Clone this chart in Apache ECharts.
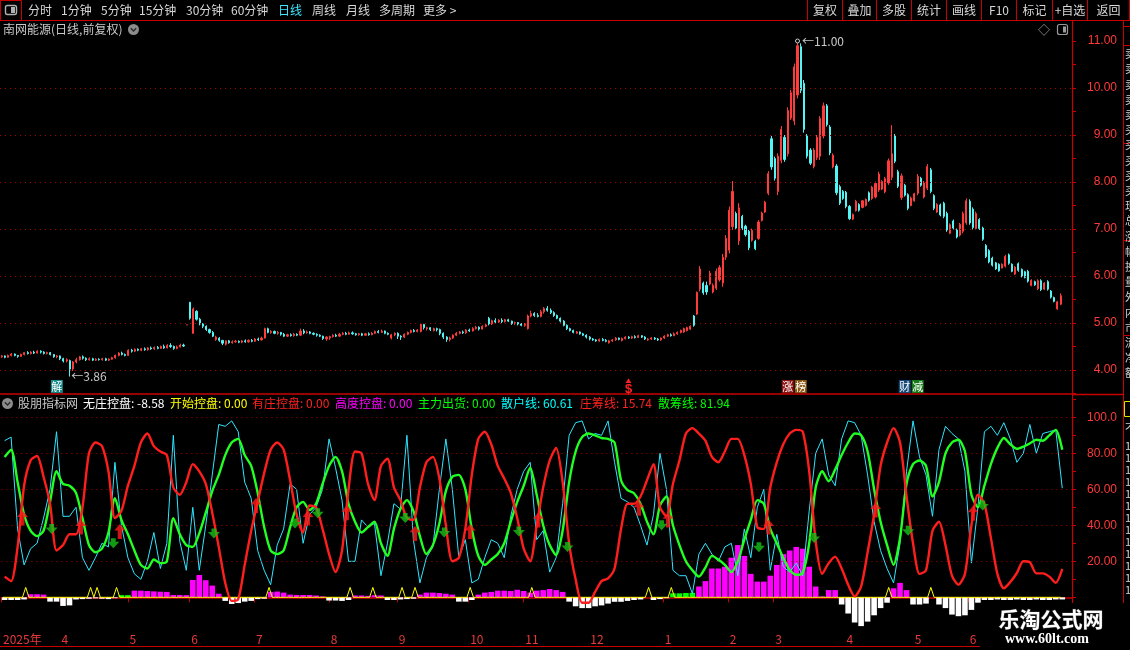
<!DOCTYPE html>
<html><head><meta charset="utf-8">
<script src="https://cdn.jsdelivr.net/npm/echarts@6/dist/echarts.min.js"></script>
<style>html,body{margin:0;padding:0;background:#000;overflow:hidden}#c{width:1130px;height:650px}</style>
</head><body><div id="c"></div>
<script>
// ---------- DATA ----------
// daily candles: [open, close, low, high]
const candles = [
[4.28,4.30,4.26,4.32],[4.30,4.27,4.25,4.31],[4.27,4.31,4.26,4.33],[4.31,4.34,4.29,4.36],[4.34,4.31,4.29,4.35],
[4.31,4.29,4.26,4.32],[4.29,4.33,4.28,4.35],[4.33,4.37,4.31,4.38],[4.37,4.35,4.33,4.40],[4.35,4.38,4.33,4.40],
[4.38,4.36,4.34,4.41],[4.36,4.40,4.35,4.42],[4.40,4.38,4.35,4.42],[4.38,4.35,4.33,4.40],[4.35,4.37,4.33,4.39],
[4.37,4.33,4.31,4.38],[4.33,4.28,4.26,4.34],[4.28,4.30,4.25,4.32],[4.30,4.24,4.21,4.31],[4.24,4.19,4.16,4.26],
[4.19,4.22,4.16,4.25],[4.20,4.02,3.86,4.22],[4.02,4.17,3.98,4.19],[4.17,4.22,4.14,4.26],[4.22,4.28,4.20,4.30],
[4.28,4.25,4.22,4.31],[4.25,4.22,4.19,4.27],[4.22,4.24,4.20,4.27],[4.24,4.21,4.19,4.26],[4.21,4.23,4.19,4.25],
[4.23,4.22,4.20,4.25],[4.22,4.24,4.20,4.26],[4.24,4.21,4.19,4.26],[4.21,4.23,4.19,4.25],[4.23,4.26,4.22,4.28],
[4.26,4.31,4.24,4.33],[4.31,4.36,4.29,4.38],[4.36,4.33,4.31,4.39],[4.33,4.31,4.29,4.35],[4.31,4.42,4.30,4.44],
[4.42,4.40,4.37,4.45],[4.40,4.44,4.38,4.46],[4.44,4.42,4.40,4.46],[4.42,4.45,4.40,4.47],[4.45,4.43,4.41,4.48],
[4.43,4.47,4.41,4.49],[4.47,4.45,4.43,4.50],[4.45,4.48,4.43,4.50],[4.48,4.46,4.44,4.51],[4.46,4.50,4.45,4.52],
[4.50,4.47,4.45,4.54],[4.47,4.52,4.46,4.55],[4.52,4.50,4.47,4.57],[4.50,4.46,4.43,4.52],[4.46,4.49,4.44,4.52],
[4.49,4.53,4.48,4.56],[4.53,4.51,4.49,4.56],[4.96,4.96,4.96,4.96],[5.44,5.10,5.07,5.45],[4.78,5.30,4.77,5.33],
[5.25,5.08,5.05,5.27],[5.08,4.98,4.95,5.11],[4.98,4.93,4.89,5.00],[4.93,4.86,4.83,4.95],[4.86,4.80,4.77,4.88],
[4.80,4.72,4.70,4.83],[4.65,4.70,4.62,4.73],[4.68,4.63,4.60,4.70],[4.63,4.57,4.53,4.64],[4.55,4.62,4.52,4.63],
[4.62,4.58,4.56,4.64],[4.58,4.60,4.56,4.63],[4.60,4.61,4.58,4.64],[4.61,4.59,4.57,4.63],[4.59,4.62,4.57,4.64],
[4.62,4.60,4.58,4.65],[4.60,4.63,4.58,4.65],[4.63,4.61,4.59,4.66],[4.61,4.66,4.60,4.68],[4.66,4.64,4.62,4.69],
[4.64,4.68,4.63,4.71],[4.68,4.88,4.67,4.90],[4.88,4.80,4.78,4.90],[4.80,4.82,4.77,4.85],[4.82,4.78,4.76,4.84],
[4.78,4.80,4.75,4.83],[4.80,4.76,4.73,4.81],[4.76,4.72,4.70,4.79],[4.72,4.75,4.70,4.77],[4.75,4.73,4.71,4.78],
[4.73,4.76,4.71,4.79],[4.76,4.74,4.72,4.78],[4.74,4.83,4.73,4.88],[4.83,4.79,4.76,4.87],[4.79,4.81,4.77,4.84],
[4.81,4.78,4.76,4.83],[4.78,4.76,4.74,4.80],[4.76,4.74,4.71,4.78],[4.74,4.72,4.70,4.76],[4.72,4.67,4.64,4.73],
[4.66,4.70,4.62,4.72],[4.68,4.71,4.64,4.73],[4.71,4.74,4.69,4.76],[4.74,4.72,4.70,4.77],[4.72,4.76,4.71,4.79],
[4.76,4.78,4.74,4.81],[4.78,4.76,4.74,4.81],[4.76,4.79,4.75,4.82],[4.79,4.77,4.75,4.82],[4.77,4.75,4.73,4.79],
[4.75,4.77,4.73,4.79],[4.77,4.74,4.72,4.79],[4.74,4.77,4.73,4.79],[4.77,4.75,4.73,4.80],[4.75,4.78,4.74,4.81],
[4.78,4.82,4.77,4.84],[4.82,4.80,4.78,4.85],[4.80,4.83,4.79,4.86],[4.83,4.78,4.76,4.84],[4.78,4.76,4.74,4.80],
[4.68,4.75,4.65,4.77],[4.75,4.78,4.72,4.80],[4.78,4.72,4.66,4.80],[4.72,4.70,4.64,4.74],[4.70,4.76,4.68,4.78],
[4.76,4.80,4.74,4.82],[4.80,4.84,4.78,4.86],[4.84,4.82,4.80,4.87],[4.82,4.85,4.80,4.87],[4.82,4.97,4.80,5.00],
[4.97,4.90,4.86,4.98],[4.88,4.90,4.84,4.92],[4.90,4.86,4.83,4.91],[4.84,4.88,4.82,4.90],[4.88,4.86,4.82,4.90],
[4.86,4.78,4.74,4.88],[4.78,4.70,4.66,4.80],[4.70,4.65,4.60,4.72],[4.65,4.68,4.61,4.71],[4.68,4.74,4.66,4.76],
[4.74,4.78,4.72,4.81],[4.78,4.81,4.76,4.83],[4.81,4.79,4.77,4.84],[4.79,4.85,4.77,4.87],[4.85,4.83,4.81,4.88],
[4.83,4.88,4.82,4.91],[4.88,4.91,4.86,4.94],[4.91,4.87,4.84,4.93],[4.87,4.93,4.86,4.95],[4.93,4.96,4.91,4.99],
[5.10,4.98,4.95,5.13],[4.98,5.05,4.96,5.07],[5.05,5.02,4.99,5.10],[5.02,5.06,5.00,5.08],[5.06,5.03,5.00,5.10],
[5.03,5.07,5.01,5.09],[5.07,5.04,5.02,5.09],[5.04,4.99,4.96,5.05],[4.99,5.01,4.96,5.03],[5.01,4.98,4.95,5.02],
[4.98,4.95,4.93,5.00],[4.95,4.97,4.92,5.00],[4.88,5.15,4.86,5.18],[5.15,5.20,5.12,5.26],[5.20,5.16,5.13,5.23],
[5.16,5.14,5.12,5.21],[5.14,5.24,5.12,5.28],[5.24,5.31,5.20,5.34],[5.31,5.27,5.24,5.36],[5.27,5.22,5.19,5.31],
[5.22,5.16,5.13,5.25],[5.16,5.10,5.08,5.18],[5.10,5.04,5.01,5.12],[5.04,4.95,4.93,5.06],[4.95,4.88,4.85,4.97],
[4.88,4.84,4.82,4.90],[4.84,4.80,4.78,4.86],[4.78,4.81,4.77,4.83],[4.81,4.77,4.75,4.82],[4.77,4.74,4.72,4.79],
[4.74,4.70,4.67,4.76],[4.70,4.66,4.63,4.72],[4.66,4.64,4.62,4.68],[4.64,4.62,4.60,4.66],[4.62,4.65,4.60,4.67],
[4.65,4.63,4.61,4.68],[4.63,4.61,4.59,4.66],[4.58,4.62,4.56,4.64],[4.62,4.64,4.60,4.66],[4.64,4.68,4.62,4.70],
[4.68,4.65,4.63,4.69],[4.63,4.67,4.61,4.69],[4.67,4.70,4.65,4.72],[4.70,4.68,4.66,4.72],[4.68,4.71,4.66,4.73],
[4.71,4.69,4.67,4.74],[4.69,4.73,4.68,4.75],[4.73,4.70,4.68,4.74],[4.70,4.66,4.64,4.72],[4.64,4.66,4.62,4.68],
[4.66,4.68,4.64,4.70],[4.68,4.66,4.64,4.70],[4.66,4.64,4.62,4.68],[4.64,4.68,4.62,4.69],[4.68,4.72,4.66,4.74],
[4.72,4.75,4.70,4.77],[4.75,4.73,4.71,4.78],[4.73,4.77,4.72,4.80],[4.77,4.80,4.75,4.82],[4.80,4.84,4.78,4.86],
[4.81,4.88,4.79,4.90],[4.84,4.90,4.82,4.92],[4.87,4.93,4.85,4.95],[5.15,4.95,4.92,5.17],[5.19,5.65,5.17,5.67],
[5.72,6.15,5.67,6.21],[5.85,5.64,5.60,5.88],[5.80,5.66,5.60,5.88],[5.83,6.06,5.80,6.11],[5.66,5.80,5.63,5.84],
[5.74,6.10,5.70,6.16],[5.92,6.18,5.88,6.23],[5.85,6.40,5.77,6.47],[6.40,6.80,6.34,6.87],[6.55,7.40,6.48,7.48],
[7.05,7.80,6.98,8.02],[7.33,7.02,6.98,7.37],[6.75,7.45,6.66,7.55],[7.27,7.02,6.98,7.30],[7.06,6.88,6.84,7.09],
[6.95,6.60,6.55,6.98],[6.76,6.97,6.73,7.01],[6.74,6.58,6.55,6.77],[6.80,7.15,6.77,7.19],[7.18,7.34,7.16,7.37],
[7.36,7.57,7.34,7.60],[7.76,8.18,7.72,8.23],[8.92,8.32,8.26,8.98],[8.50,8.08,8.03,8.54],[7.80,8.55,7.72,8.61],
[8.46,9.12,8.40,9.19],[8.95,8.48,8.43,9.00],[8.60,9.52,8.54,9.59],[9.36,9.90,9.32,9.96],[9.30,10.45,9.21,10.52],
[9.85,10.90,9.78,11.00],[10.88,9.95,9.89,10.95],[10.10,9.12,9.05,10.17],[8.98,8.55,8.50,9.02],[8.68,8.40,8.36,8.72],
[8.33,8.68,8.29,8.72],[8.52,8.95,8.47,9.00],[8.55,9.35,8.47,9.40],[8.98,9.62,8.93,9.69],[9.62,9.22,9.18,9.66],
[9.17,8.62,8.57,9.21],[8.32,8.57,8.29,8.61],[8.34,7.77,7.72,8.38],[7.90,7.55,7.51,7.94],[7.80,7.65,7.62,7.83],
[7.78,7.48,7.44,7.81],[7.48,7.22,7.19,7.51],[7.21,7.31,7.19,7.33],[7.39,7.59,7.37,7.62],[7.52,7.40,7.37,7.55],
[7.46,7.60,7.44,7.62],[7.50,7.63,7.48,7.65],[7.77,7.61,7.58,7.80],[7.65,7.89,7.62,7.92],[7.68,7.97,7.65,8.01],
[7.83,8.17,7.79,8.22],[7.85,8.01,7.83,8.04],[7.79,8.07,7.76,8.11],[7.98,8.45,7.94,8.50],[8.10,8.60,8.04,9.21],
[8.98,8.44,8.40,9.02],[8.22,7.91,7.87,8.26],[7.67,8.13,7.62,8.18],[7.93,7.72,7.69,7.96],[7.73,7.44,7.40,7.76],
[7.50,7.66,7.48,7.69],[7.60,7.75,7.58,7.77],[7.76,8.12,7.72,8.17],[8.08,7.93,7.90,8.11],[7.68,7.98,7.65,8.02],
[7.87,8.33,7.83,8.38],[8.26,7.80,7.76,8.30],[7.71,7.44,7.40,7.74],[7.36,7.52,7.34,7.55],[7.51,7.30,7.27,7.54],
[7.55,7.27,7.23,7.58],[7.33,6.98,6.94,7.37],[6.91,7.09,6.89,7.12],[7.17,7.02,6.99,7.20],[6.98,6.83,6.80,7.01],
[6.87,7.10,6.84,7.13],[6.95,7.33,6.91,7.37],[7.13,7.60,7.09,7.65],[7.59,7.13,7.09,7.63],[7.42,7.03,6.99,7.46],
[7.01,7.33,6.98,7.37],[7.20,7.01,6.98,7.23],[7.02,6.78,6.75,7.05],[6.65,6.41,6.38,6.68],[6.54,6.30,6.27,6.57],
[6.38,6.23,6.20,6.41],[6.28,6.15,6.13,6.30],[6.25,6.11,6.09,6.27],[6.17,6.25,6.16,6.27],[6.21,6.42,6.18,6.45],
[6.45,6.27,6.24,6.48],[6.25,6.10,6.08,6.27],[6.04,6.19,6.02,6.21],[6.26,6.12,6.09,6.29],[6.14,6.00,5.97,6.16],
[6.09,5.97,5.95,6.11],[6.10,5.89,5.86,6.13],[5.80,5.91,5.78,5.93],[5.88,5.81,5.79,5.90],[5.73,5.90,5.70,5.93],
[5.90,5.71,5.68,5.93],[5.72,5.85,5.70,5.87],[5.88,5.72,5.69,5.91],[5.68,5.55,5.52,5.70],[5.54,5.46,5.44,5.56],
[5.30,5.45,5.28,5.47],[5.40,5.58,5.38,5.63]
];
// month-start candle indexes and their labels on the date axis
const monthIdx = [0,18,39,58,78,101,122,144,161,181,204,224,238,260,281,298];
const monthLabels = ['2025年','4','5','6','7','8','9','10','11','12','1','2','3','4','5','6'];
const priceLevels = [4,5,6,7,8,9,10];
const indLevels = [20,40,60,80,100];
// indicator lines, one value per two trading days
const zhuangLine = [ // 庄筹线 (red)
11.5,9,28,62,76,78.5,67,52,26,29, 35,35,50,80,86,84,70,44,48,62,
73,86,91,84,81,79,61,57,64,74, 70,63,47,28,8,-2,-1,18,37,53,
69,82,86,82,65,46,36,51,50,38, 24,14,26,60,81,80,63,54,73,77,
61,54,44,43,61,75,78,66,40,20, 22,38,68,88,92,85,73,66,58,44,
27,20,40,61,76,83,64,30,10,-3, -3,3,9,10.5,16,38,52,52,56,65,
74,50,45,63,76,91,94,91,87,78, 75,81,88,88,79,63,39,38,61,75,
85,91,93,92,70,31,13,19,22.6,16, 7,0.5,6,25,46,73,86,94,86,56,
30,13,15,37,42,29,12,7,13,40, 57,52,33,13,5,8.5,13.5,20,19.5,13.3,
13.3,11.5,8,15.74];
const sanchouLine = [ // 散筹线 (green)
78,82,64,46,37,34,37,53,70,63, 62,58,44,29,25,27,36,55,43,35,
26,18,16,21,19,20,44,35,29,28, 35.5,47,59,68,79,86,88,79,73,58,
39,26,24,26,39,50,53,48.5,52,63, 73,78,70,52,42,36,39,42,30,23,
38,49,54,48,34,24,29,41,59,67, 68,60,38,23,18,21,24,30,42,53,
62,72,57,40,29,23.5,37,64,81,89, 91,90,88.5,88,86,65,59.5,57.8,52,42,
35,51,56,40,29,20,15,11.5,16.5,23, 21,18,14,20,32,43,54,52,38,30,
22,15,12.5,13.5,30,61,70,64.5,71,79, 86,91,90,81,60,42,29,18,33,63,
74,76,73,56,64,80,86,87.5,81,57, 50,62,74,83,88.5,85,82.5,83.7,85.5,87.5,
87,90,93,81.94];
const sanhuLine = [ // 散户线 (cyan)
87,89,38,18,27,30,44,60,92,45, 45,50,22,15,22,30,28,75,40,22,
13,10,20,36,16,30,90,31,15,50, 15,40,68,96,95,98,92,64,55,26,
15,7,29,38,63,60,30,46,50,60, 88,72,54,20,20,43,39,41,12,30,
52,49,90,32,8,22,28,60,88,60, 22,32,8,10,22,32,30,22,45,60,
70,75,32,37,14,22,52,90,97,98, 88,91,90,98,75,55,53,50,40,29,
46,80,60,15,12,12,2,24,30,24, 20,28,30,12,38,22,50,60,15,35,
17,14,19,12,48,80,88,68,62,88, 98,97,90,68,42,26,16,8,30,70,
98,78,68,45,82,95,91,88,70,19, 50,92,95,90,97,88,75,80,96,80,
91,92,93,60.61];
const kongpanBars = [ // 控盘 histogram (magenta above 0, white below 0)
-1.5,-1.5,-1.5,-1.2,1.7,1.7,1.5,-2.4,-2.4,-4.8, -4.5,-1.2,-1,-0.8,-0.6,-0.8,-1,-0.5,0,0,
3.7,3.7,3.5,3.3,3.1,3,1.3,1.3,1.2,9.6, 12.4,9.5,6.5,2,-2,-3.7,-3.2,-2.4,-2,-1,
-0.8,3,3.2,2.6,1.5,1.3,1.3,1.3,1,0.5, -1.8,-1.8,-2,-1.5,1,1,0.8,1.2,1,-1.5,
-1.5,-1.2,-1,-0.8,1.5,2.6,2.6,2.4,2,1.5, -2.4,-2.4,-1.5,1.5,2.6,3,3.7,3.7,3.5,4.2,
3.5,2.6,3.7,4,4.6,4,3,-2.4,-5,-6, -6,-5,-4.5,-3.5,-2.5,-2.5,-2,-1.5,-1.2,0,
-1.5,-1,-0.5,0,0,0,0,6,9,16, 16,17,22,29,23,13,8.7,8.7,12,18,
24,26,28,27,17,6,0.5,4,4,-4, -9,-14,-16,-13.5,-10,-6,-3,5,8,4,
-4,-4,-3.5,0,-4,-6,-9.6,-10.5,-10,-7, -3,-1.5,-1.5,-1.2,-1.5,-1.5,-1.2,-1.5,-1.5,-1.2,
-1.5,-1.5,-1.2,-1.2];
const chuhuoBars = [[18,1.2],[19,1.2],[103,2.2],[104,2.2],[105,2.4],[106,2.5]]; // 主力出货 (green)
const startSpikes = [7,27,29,35,82,107,114,123,127,144,163,199,206,273,286]; // 开始控盘 (yellow)
const upArrows = [[6,44],[24,39],[36,36.5],[78,51],[94,44],[106,47],[127,35.5],[144,36.5],[165,43],[196,49.5],[205,43],[236,39],[269,48.5],[299,46.7]];
const downArrows = [[15,38],[34,30],[65,35.5],[90,41],[97,46.7],[124,44],[136,36],[159,36.5],[174,28],[203,40],[233,27.8],[250,33],[279,37],[302,51]];
const eventMarks = [
  {idx:17, text:'解', bg:'#17898a'},
  {idx:242, text:'涨', bg:'#8c1414'},
  {idx:246, text:'榜', bg:'#8c5a14'},
  {idx:278, text:'财', bg:'#134a7a'},
  {idx:282, text:'减', bg:'#167a16'}
];
const toolLeft = [['分时',28],['1分钟',61],['5分钟',101],['15分钟',139],['30分钟',186],['60分钟',231],['日线',278],['周线',312],['月线',346],['多周期',379],['更多 >',423]];
const toolRight = ['复权','叠加','多股','统计','画线','F10','标记','+自选','返回'];
const toolEdges = [807,842,876,911,946,981,1016,1052,1087,1129];
const header = [
  ['股朋指标网',18,'#c8c8c8'],['无庄控盘: -8.58',83,'#ffffff'],['开始控盘: 0.00',170,'#ffff00'],
  ['有庄控盘: 0.00',252,'#ff2020'],['高度控盘: 0.00',335,'#ff00ff'],['主力出货: 0.00',418,'#00ff00'],
  ['散户线: 60.61',501,'#00ffff'],['庄筹线: 15.74',580,'#ff2020'],['散筹线: 81.94',658,'#00ff00']
];

// ---------- CHART ----------
const SLOTS = 330;
const cats = Array.from({length:SLOTS},(_,i)=>String(i));
const halfCats = Array.from({length:SLOTS/2},(_,i)=>String(i));
const monthMap = {}; monthIdx.forEach((m,k)=>{monthMap[m]=monthLabels[k];});
const yellowData = candles.map((_,i)=> startSpikes.indexOf(i)>=0 ? 5.5 : 0);
const F = '"Noto Sans CJK SC","Liberation Sans",sans-serif';
const FN = '"Liberation Sans","Noto Sans CJK SC",sans-serif';
const RED = '#c80000';

function txt(t,x,y,fill,size,align,z,font){
  return {type:'text', z:z||60, style:{text:t,x:x,y:y,fill:fill,font:(font||(size+'px '+F)),
    textAlign:align||'left', textVerticalAlign:'middle', align:align||'left', verticalAlign:'middle'}};
}
function ln(x1,y1,x2,y2,c,w,z){return {type:'line',z:z||55,shape:{x1:x1,y1:y1,x2:x2,y2:y2},style:{stroke:c,lineWidth:w||1}};}

const g = [];
g.push({type:'rect',z:50,shape:{x:0,y:0,width:1130,height:20},style:{fill:'#000'}});
g.push(ln(0,20.5,1130,20.5,RED,1));
g.push({type:'rect',z:55,shape:{x:0.5,y:0.5,width:21,height:20},style:{fill:'#000',stroke:RED,lineWidth:1}});
g.push({type:'rect',z:56,shape:{x:5.5,y:5.5,width:11,height:9,r:2},style:{fill:'none',stroke:'#b0b0b0',lineWidth:1.4}});
g.push({type:'rect',z:56,shape:{x:11,y:7,width:4,height:6},style:{fill:'#b0b0b0'}});
toolLeft.forEach(([t,x])=>g.push(txt(t,x,10,t==='日线'?'#3ee6ff':'#d8d8d8',12)));
toolEdges.forEach(x=>g.push(ln(x+0.5,0,x+0.5,20,RED,1)));
toolRight.forEach((t,k)=>g.push(txt(t,(toolEdges[k]+toolEdges[k+1])/2+0.5,10,'#d8d8d8',12,'center')));
// title row
g.push(txt('南网能源(日线,前复权)',3,29.5,'#c8c8c8',12));
g.push({type:'circle',z:60,shape:{cx:133.5,cy:29.5,r:5.5},style:{fill:'#8c8c8c'}});
g.push({type:'polyline',z:61,shape:{points:[[130.8,28.2],[133.5,31],[136.2,28.2]]},style:{stroke:'#2a2a2a',lineWidth:1.4,fill:'none'}});
g.push(txt('◇',1044,30,'#9a9a9a',12,'center'));
g.push({type:'rect',z:60,shape:{x:1057.5,y:24.5,width:10,height:10,r:2},style:{fill:'none',stroke:'#9a9a9a',lineWidth:1.2}});
g.push({type:'rect',z:60,shape:{x:1063,y:26.5,width:3,height:6},style:{fill:'#9a9a9a'}});
// indicator header
g.push({type:'circle',z:60,shape:{cx:7.5,cy:403.5,r:5.5},style:{fill:'#8c8c8c'}});
g.push({type:'polyline',z:61,shape:{points:[[4.8,402.2],[7.5,405],[10.2,402.2]]},style:{stroke:'#2a2a2a',lineWidth:1.4,fill:'none'}});
header.forEach(([t,x,c])=>g.push(txt(t,x,403.5,c,12)));
// frame lines
g.push(ln(1072,394.5,1123,394.5,RED,1.5));
g.push(ln(1072.5,390,1072.5,402,RED,1));
g.push(ln(1123.5,20,1123.5,650,RED,1));
[26,45,143,240,335].forEach(y=>g.push(ln(1123,y+0.5,1130,y+0.5,RED,1)));
['卖','卖','卖','卖','卖','买','买','买','买','买','现','总','涨','幅','换','量','外','内','市','流','净','额'].forEach((c,k)=>g.push(txt(c,1125,54+k*15.2,'#cfcfcf',11)));
g.push({type:'rect',z:60,shape:{x:1124.5,y:401.5,width:8,height:15},style:{fill:'none',stroke:'#e0e000',lineWidth:1}});
g.push(txt('不',1125,428,'#cfcfcf',11));
[446,458,470,482,494,506,518,530,542,554,566,578,590].forEach(y=>g.push(txt('1',1125,y,'#cfcfcf',11)));
g.push(ln(0,646.5,980,646.5,RED,1));
// watermark
g.push({type:'rect',z:200,shape:{x:980,y:603,width:150,height:47},style:{fill:'#000'}});
g.push({type:'text',z:201,style:{text:'乐淘公式网',x:1051,y:619,fill:'#ffffff',font:'bold 21px "Noto Sans CJK SC"',
  textAlign:'center',textVerticalAlign:'middle',align:'center',verticalAlign:'middle',stroke:'#333',lineWidth:1}});
g.push({type:'text',z:201,style:{text:'www.60lt.com',x:1047,y:639.5,fill:'#ffffff',font:'bold 14px "Liberation Serif","DejaVu Serif",serif',
  textAlign:'center',textVerticalAlign:'middle',align:'center',verticalAlign:'middle'}});

const markPts = [
  {coord:['245',11.0], symbol:'circle', symbolSize:4, itemStyle:{color:'#000',borderColor:'#cccccc',borderWidth:1},
   label:{show:true,position:'right',distance:2,formatter:'←11.00',color:'#c8c8c8',fontSize:12,fontFamily:F}},
  {coord:['21',3.86], symbol:'circle', symbolSize:1, itemStyle:{color:'rgba(0,0,0,0)'},
   label:{show:true,position:'right',distance:1,formatter:'←3.86',color:'#c8c8c8',fontSize:12,fontFamily:F}},
  {coord:['193',3.65], symbol:'circle', symbolSize:0,
   label:{show:true,position:'inside',formatter:'{t|▲}\n{s|$}',rich:{t:{fontSize:6,lineHeight:6,color:'#ff2020'},s:{fontSize:13,lineHeight:12,fontWeight:'bold',color:'#ff2020',fontFamily:FN}}}}
];
eventMarks.forEach(e=>markPts.push({coord:[String(e.idx),3.65],symbol:'circle',symbolSize:0,
  label:{show:true,position:'inside',formatter:e.text,color:'#ffffff',backgroundColor:e.bg,fontSize:11,fontFamily:F,
    width:12,height:13,lineHeight:13,align:'center',verticalAlign:'middle',padding:0}}));

const monthFn = (i)=> monthMap[i]!==undefined;
const arrowUp = 'path://M5,0 L10,6 L6.9,6 L6.9,14 L3.1,14 L3.1,6 L0,6 Z';
const arrowDown = 'path://M3,0 L7,0 L7,3.5 L10,3.5 L5,10 L0,3.5 L3,3.5 Z';

const option = {
  animation:false,
  backgroundColor:'#000',
  textStyle:{fontFamily:F},
  grid:[
    {left:0,right:58,top:17.5,height:376},
    {left:0,right:58,top:399.3,height:234}
  ],
  xAxis:[
    {type:'category',gridIndex:0,data:cats,boundaryGap:true,axisLine:{lineStyle:{color:RED,width:1.5}},axisTick:{show:false},axisLabel:{show:false},splitLine:{show:false}},
    {type:'category',gridIndex:1,data:cats,boundaryGap:true,offset:-2.6,
      axisLine:{lineStyle:{color:RED,width:1.5}},
      axisTick:{show:true,interval:monthFn,length:5,lineStyle:{color:RED}},
      axisLabel:{show:true,interval:monthFn,formatter:(v,i)=>monthMap[i]||'',align:'left',color:'#e83a3a',fontSize:12,fontFamily:F,margin:3},
      splitLine:{show:false}},
    {type:'category',gridIndex:1,data:halfCats,boundaryGap:true,show:false}
  ],
  yAxis:[
    {type:'value',gridIndex:0,position:'right',min:3.5,max:11.5,interval:0.5,
      axisLine:{show:true,lineStyle:{color:RED,width:1.2}},axisTick:{show:true,length:4,lineStyle:{color:RED}},
      axisLabel:{margin:45,align:'right',color:'#ff3a3a',fontSize:12,fontFamily:FN,formatter:v=>Number.isInteger(v)?v.toFixed(2):''},
      splitLine:{show:false}},
    {type:'value',gridIndex:1,position:'right',min:-20,max:110,interval:10,
      axisLine:{show:true,lineStyle:{color:RED,width:1.2}},axisTick:{show:true,length:4,lineStyle:{color:RED}},
      axisLabel:{margin:45,align:'right',color:'#ff3a3a',fontSize:12,fontFamily:FN,
        formatter:v=>(v>=20&&v<=100&&v%20===0)?(v===100?'100.0':v.toFixed(2)):''},
      splitLine:{show:false}}
  ],
  series:[
    {type:'candlestick',xAxisIndex:0,yAxisIndex:0,data:candles,barWidth:1.6,z:3,
      itemStyle:{color:'#ff3c3c',color0:'#52f4f4',borderColor:'#ff3c3c',borderColor0:'#52f4f4',borderWidth:1},
      markPoint:{silent:true,data:markPts},
      markLine:{silent:true,symbol:['none','none'],label:{show:false},lineStyle:{color:'#a80000',type:[1,4],width:1},
        data:priceLevels.map(v=>({yAxis:v}))}},
    {type:'bar',xAxisIndex:2,yAxisIndex:1,z:2,barCategoryGap:'14%',
      data:kongpanBars.map(v=>({value:v,itemStyle:{color:v>=0?'#ff00ff':'#ffffff'}}))},
    {type:'bar',xAxisIndex:2,yAxisIndex:1,z:2,barGap:'-100%',barCategoryGap:'14%',itemStyle:{color:'#00ff00'},data:chuhuoBars},
    {type:'line',xAxisIndex:1,yAxisIndex:1,z:3,data:yellowData,symbol:'none',lineStyle:{color:'#ffff00',width:1},
      markLine:{silent:true,symbol:['none','none'],label:{show:false},lineStyle:{color:'#a80000',type:[1,4],width:1},
        data:indLevels.map(v=>({yAxis:v}))}},
    {type:'line',xAxisIndex:2,yAxisIndex:1,z:4,data:sanhuLine,symbol:'none',lineStyle:{color:'#2ee6ff',width:1}},
    {type:'line',xAxisIndex:2,yAxisIndex:1,z:5,data:sanchouLine,symbol:'none',smooth:0.25,lineStyle:{color:'#22ff22',width:2.4}},
    {type:'line',xAxisIndex:2,yAxisIndex:1,z:6,data:zhuangLine,symbol:'none',smooth:0.25,lineStyle:{color:'#ff1e1e',width:2.4}},
    {type:'scatter',xAxisIndex:1,yAxisIndex:1,z:7,data:upArrows,symbol:arrowUp,symbolSize:[11,15],itemStyle:{color:'#ff1a1a'}},
    {type:'scatter',xAxisIndex:1,yAxisIndex:1,z:7,data:downArrows,symbol:arrowDown,symbolSize:[12,10],itemStyle:{color:'#16c016'}}
  ],
  graphic:{elements:g}
};
const chart = echarts.init(document.getElementById('c'),null,{renderer:'canvas'});
chart.setOption(option);
</script></body></html>
